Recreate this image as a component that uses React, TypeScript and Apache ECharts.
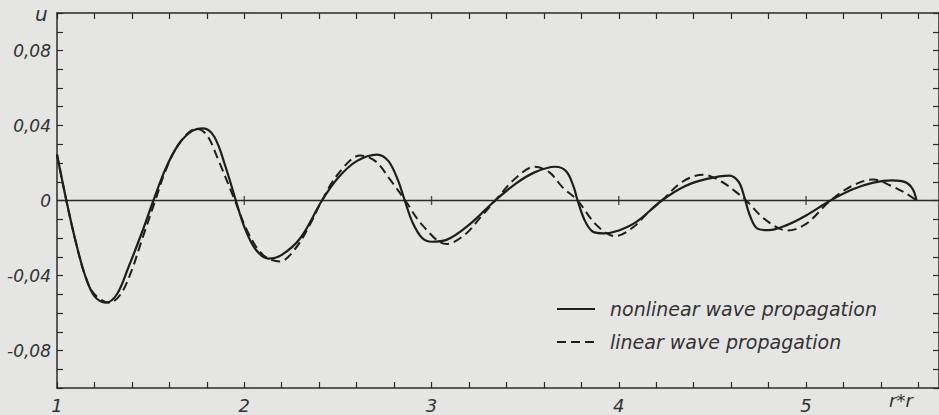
import React, { useEffect, useRef } from "react";
import * as echarts from "echarts";

const xLabels = ["1", "2", "3", "4", "5"];
const yLabelValues = [-0.08, -0.04, 0, 0.04, 0.08];
const legendNames = ["nonlinear wave propagation", "linear wave propagation"];

const nonlinearX = [1.0, 1.05, 1.1, 1.15, 1.2, 1.26, 1.32, 1.38, 1.45, 1.515, 1.58, 1.65, 1.72, 1.78, 1.84, 1.9, 1.955, 2.0, 2.06, 2.13, 2.2, 2.3, 2.415, 2.5, 2.6, 2.71, 2.77, 2.82, 2.857, 2.9, 2.95, 3.0, 3.08, 3.2, 3.34, 3.45, 3.55, 3.66, 3.72, 3.76, 3.78, 3.82, 3.86, 3.92, 4.0, 4.1, 4.23, 4.35, 4.47, 4.59, 4.64, 4.67, 4.7, 4.74, 4.8, 4.9, 5.0, 5.13, 5.25, 5.36, 5.46, 5.53, 5.57, 5.59];
const nonlinearU = [0.0245, 0.0, -0.022, -0.04, -0.051, -0.0545, -0.05, -0.036, -0.018, 0, 0.017, 0.03, 0.037, 0.0385, 0.034, 0.018, 0, -0.014, -0.026, -0.031, -0.029, -0.02, 0, 0.012, 0.021, 0.0245, 0.021, 0.011, 0, -0.012, -0.02, -0.022, -0.021, -0.013, 0, 0.009, 0.015, 0.018, 0.0155, 0.007, 0, -0.011, -0.0165, -0.0175, -0.016, -0.011, 0, 0.0075, 0.0115, 0.0133, 0.01, 0.002, -0.008, -0.015, -0.0158, -0.013, -0.008, 0, 0.006, 0.0095, 0.0107, 0.0098, 0.006, 0];

const linearX = [1.0, 1.05, 1.1, 1.15, 1.2, 1.28, 1.34, 1.4, 1.45, 1.525, 1.58, 1.65, 1.745, 1.8, 1.86, 1.95, 2.02, 2.1, 2.19, 2.27, 2.35, 2.415, 2.5, 2.62, 2.7, 2.78, 2.86, 2.95, 3.08, 3.18, 3.27, 3.34, 3.45, 3.55, 3.63, 3.7, 3.78, 3.88, 3.98, 4.08, 4.16, 4.23, 4.34, 4.45, 4.55, 4.62, 4.68, 4.78, 4.9, 5.0, 5.13, 5.25, 5.36, 5.45, 5.53, 5.59];
const linearU = [0.0245, 0, -0.022, -0.04, -0.05, -0.0545, -0.05, -0.037, -0.022, 0, 0.016, 0.03, 0.0383, 0.035, 0.022, 0, -0.017, -0.029, -0.0325, -0.026, -0.013, 0, 0.014, 0.024, 0.021, 0.011, 0, -0.013, -0.0232, -0.018, -0.008, 0, 0.012, 0.018, 0.015, 0.007, 0, -0.013, -0.019, -0.014, -0.006, 0, 0.01, 0.0138, 0.01, 0.005, 0, -0.01, -0.016, -0.0125, 0, 0.008, 0.0112, 0.008, 0.004, 0];

const zeroTickX = [2, 3, 4, 5];

const INK = "#2a2a2a";
const FONT = "DejaVu Sans";

function fmtY(v: number): string {
  const k = Math.round(v * 100);
  if (!yLabelValues.some((y) => Math.round(y * 100) === k)) return "";
  if (k === 0) return "0";
  return (k < 0 ? "-" : "") + "0," + String(Math.abs(k)).padStart(2, "0");
}

function fmtX(v: number): string {
  const r = Math.round(v);
  if (Math.abs(v - r) > 1e-6) return "";
  const s = String(r);
  return xLabels.includes(s) ? s : "";
}

export default function App() {
  const ref = useRef<HTMLDivElement>(null);
  useEffect(() => {
    if (!ref.current) return;
    const chart = echarts.init(ref.current, undefined, { renderer: "svg" });
    const axisCommon = {
      type: "value" as const,
      axisLine: { show: true, onZero: false, lineStyle: { color: INK, width: 1.5 } },
      axisTick: { show: true, inside: true, length: 6, lineStyle: { color: INK, width: 1.2 } },
      splitLine: { show: false },
    };
    const labelStyle = { color: "#333", fontSize: 18, fontStyle: "italic" as const, fontFamily: FONT };
    chart.setOption({
      animation: false,
      backgroundColor: "#e5e5e3",
      grid: { left: 57, right: 0, top: 13, bottom: 27, containLabel: false },
      xAxis: [
        {
          ...axisCommon,
          position: "bottom",
          min: 1,
          max: 5.71,
          interval: 0.2,
          axisLabel: { ...labelStyle, margin: 8, formatter: fmtX, showMaxLabel: false },
        },
        {
          ...axisCommon,
          position: "top",
          min: 1,
          max: 5.71,
          interval: 0.2,
          axisLabel: { show: false },
        },
      ],
      yAxis: [
        {
          ...axisCommon,
          position: "left",
          min: -0.1,
          max: 0.1,
          interval: 0.01,
          axisLabel: { ...labelStyle, fontSize: 17, margin: 6, formatter: fmtY },
        },
        {
          ...axisCommon,
          position: "right",
          min: -0.1,
          max: 0.1,
          interval: 0.01,
          axisLabel: { show: false },
        },
      ],
      graphic: [
        {
          type: "text",
          left: 35,
          top: 4,
          style: { text: "u", fill: "#333", font: `italic 20px ${FONT}` },
        },
        {
          type: "text",
          left: 889,
          top: 391,
          style: { text: "r*r", fill: "#333", font: `italic 18px ${FONT}` },
        },
        {
          type: "line",
          shape: { x1: 557, y1: 309, x2: 595, y2: 309 },
          style: { stroke: "#1e1e1e", lineWidth: 2.2 },
        },
        {
          type: "line",
          shape: { x1: 557, y1: 342, x2: 595, y2: 342 },
          style: { stroke: "#1e1e1e", lineWidth: 2.0, lineDash: [9, 5] },
        },
        {
          type: "text",
          x: 610,
          y: 309,
          style: {
            text: legendNames[0],
            fill: "#333",
            font: `italic 19px ${FONT}`,
            verticalAlign: "middle",
            align: "left",
          },
        },
        {
          type: "text",
          x: 610,
          y: 342,
          style: {
            text: legendNames[1],
            fill: "#333",
            font: `italic 19px ${FONT}`,
            verticalAlign: "middle",
            align: "left",
          },
        },
      ],
      series: [
        {
          name: "zero",
          type: "line",
          data: [
            [1, 0],
            [5.71, 0],
          ],
          symbol: "none",
          lineStyle: { color: INK, width: 1.3 },
          silent: true,
        },
        {
          name: "zeroTicks",
          type: "scatter",
          data: zeroTickX.map((x) => [x, 0]),
          symbol: "rect",
          symbolSize: [1.4, 9],
          itemStyle: { color: INK },
          silent: true,
        },
        {
          name: legendNames[0],
          type: "line",
          data: nonlinearX.map((x, i) => [x, nonlinearU[i]]),
          smooth: 0.35,
          symbol: "none",
          lineStyle: { color: "#1e1e1e", width: 2.2, type: "solid" },
          itemStyle: { color: "#1e1e1e" },
        },
        {
          name: legendNames[1],
          type: "line",
          data: linearX.map((x, i) => [x, linearU[i]]),
          smooth: 0.35,
          symbol: "none",
          lineStyle: { color: "#1e1e1e", width: 2.0, type: [9, 5] },
          itemStyle: { color: "#1e1e1e" },
        },
      ],
    });
    return () => chart.dispose();
  }, []);
  return (
    <div
      ref={ref}
      style={{ position: "absolute", left: 0, top: 0, width: 939, height: 415 }}
    />
  );
}
